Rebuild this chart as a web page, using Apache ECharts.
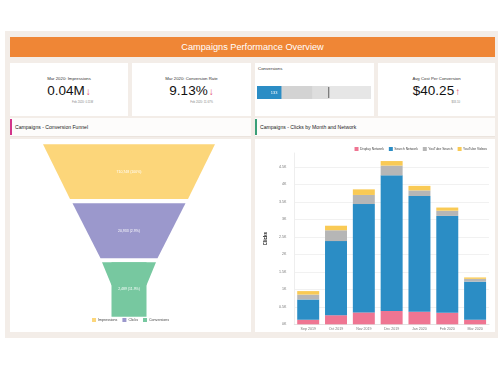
<!DOCTYPE html>
<html><head><meta charset="utf-8">
<script src="https://cdn.jsdelivr.net/npm/echarts@6/dist/echarts.min.js"></script>
<style>
body{margin:0;width:500px;height:375px;background:#fff;font-family:"Liberation Sans",Arial,sans-serif;position:relative;overflow:hidden}
.a{position:absolute}
#bg{left:5px;top:31px;width:493px;height:307px;background:#f3ede8}
#hdr{left:10px;top:37px;width:485px;height:20px;background:#ef8636;color:#fff;font-size:9.2px;line-height:20px;text-align:center}
.card{position:absolute;background:#fff;top:63px;height:53px;border:0}
.kt{position:absolute;top:13px;left:0;width:100%;text-align:center;font-size:4.3px;color:#333;white-space:nowrap}
.kv{position:absolute;top:20px;left:0;width:100%;text-align:center;font-size:13.5px;color:#111;white-space:nowrap;line-height:16px}
.ar{font-size:10px;color:#e34a6c;margin-left:1px}
.ks{position:absolute;top:37px;font-size:2.8px;color:#888;white-space:nowrap}
.ph{position:absolute;top:118px;height:18px;background:#fdfcfb;border-bottom:1px solid #ebe4de}
.ph .acc{position:absolute;left:0;top:1px;width:1.5px;height:16px}
.ph .tt{position:absolute;left:5px;top:0;line-height:18px;font-size:5.1px;color:#222;white-space:nowrap}
.pb{position:absolute;top:139px;height:193px;background:#fff}
</style></head>
<body>
<div id="bg" class="a"></div>
<div id="hdr" class="a">Campaigns Performance Overview</div>

<div class="card" style="left:10px;width:118px">
  <div class="kt">Mar 2020: Impressions</div>
  <div class="kv">0.04M<span class="ar">↓</span></div>
  <div class="ks" style="right:35px">Feb 2020: 0.11M</div>
</div>
<div class="card" style="left:132px;width:119px">
  <div class="kt">Mar 2020: Conversion Rate</div>
  <div class="kv">9.13%<span class="ar">↓</span></div>
  <div class="ks" style="right:38px">Feb 2020: 11.67%</div>
</div>
<div class="card" style="left:255px;width:119px">
  <div class="a" style="left:3px;top:3px;font-size:4.4px;color:#333">Conversions</div>
  <div id="bullet" class="a" style="left:0;top:0;width:119px;height:53px"></div>
</div>
<div class="card" style="left:378px;width:117px">
  <div class="kt">Avg Cost Per Conversion</div>
  <div class="kv">$40.25<span class="ar">↑</span></div>
  <div class="ks" style="right:35px">$33.10</div>
</div>

<div class="ph" style="left:10px;width:241px"><div class="acc" style="background:#d2358a"></div><div class="tt">Campaigns - Conversion Funnel</div></div>
<div class="ph" style="left:255px;width:240px"><div class="acc" style="background:#3a9f78"></div><div class="tt">Campaigns - Clicks by Month and Network</div></div>

<div id="funnel" class="pb" style="left:10px;width:241px"></div>
<div id="bars" class="pb" style="left:255px;width:240px"></div>

<script>
// ---- data ----
const months = ['Sep 2019', 'Oct 2019', 'Nov 2019', 'Dec 2019', 'Jan 2020', 'Feb 2020', 'Mar 2020'];
const displayNetwork = [130, 260, 340, 380, 360, 330, 130];
const searchNetwork = [580, 2120, 3100, 3880, 3310, 2770, 1090];
const youtubeSearch = [140, 310, 260, 280, 160, 150, 80];
const youtubeVideos = [100, 130, 160, 130, 130, 90, 40];
const networkNames = ['Display Network', 'Search Network', 'YouTube Search', 'YouTube Videos'];

const funnelStages = ['Impressions', 'Clicks', 'Conversions'];
const funnelValues = [710748, 20933, 2489];

const conversionsValue = 133;
const conversionsTarget = 390;
const conversionsRanges = [300, 390, 620];

// ---- bar chart ----
const netColors = ['#ef7592', '#2b8dc5', '#b6b6b6', '#f9ca55'];
const netData = [displayNetwork, searchNetwork, youtubeSearch, youtubeVideos];
const bars = echarts.init(document.getElementById('bars'));
bars.setOption({
  animation: false,
  textStyle: {fontFamily: 'Liberation Sans'},
  legend: {
    data: networkNames, right: 3, top: 3, itemWidth: 4, itemHeight: 4, itemGap: 5,
    icon: 'rect', textStyle: {fontSize: 3.3, color: '#444', padding: [0, 0, 0, -3.5]}
  },
  grid: {left: 25.6, right: 6, top: 14, bottom: 7.7},
  xAxis: {
    type: 'category', data: months,
    axisTick: {show: false},
    axisLine: {lineStyle: {color: '#e2e2e2'}},
    axisLabel: {fontSize: 3.6, color: '#777', margin: 2.5}
  },
  yAxis: {
    type: 'value', min: 0, max: 4900, interval: 500,
    name: 'Clicks', nameLocation: 'middle', nameGap: 20,
    nameTextStyle: {fontSize: 4.5, fontWeight: 'bold', color: '#111'},
    axisLine: {show: true, lineStyle: {color: '#eeeeee'}},
    axisTick: {show: false},
    axisLabel: {fontSize: 3.6, color: '#777', margin: 8, showMaxLabel: false,
      formatter: v => (v / 1000) + 'K'},
    splitLine: {lineStyle: {color: '#f1f1f1'}, showMaxLine: false}
  },
  series: networkNames.map((n, i) => ({
    name: n, type: 'bar', stack: 'clicks', data: netData[i], barWidth: '79%',
    itemStyle: {color: netColors[i]}
  }))
});

// ---- funnel ----
const funnelColors = ['#fcd67a', '#9b98cc', '#77c8a0'];
const pct = i => i === 0 ? '100%' : (funnelValues[i] / funnelValues[i - 1] * 100).toFixed(1) + '%';
const fmtLabel = i => funnelValues[i].toLocaleString('en-US') + ' (' + pct(i) + ')';
// shape styles for each stage piece: [stage index, top, height, topWidth, bottomWidth, showLabel]
const pieces = [
  [0, 5.3, 54.7, 172, 118, true],
  [1, 64.3, 55, 113, 57, true],
  [2, 123.3, 54.4, 35, 35, true],
  [2, 123.3, 23, 54, 35, false]
];
const cx = 119;
const funnel = echarts.init(document.getElementById('funnel'));
funnel.setOption({
  animation: false,
  textStyle: {fontFamily: 'Liberation Sans'},
  legend: {
    data: funnelStages, bottom: 5, left: 'center', itemWidth: 4, itemHeight: 4, itemGap: 5,
    icon: 'rect', textStyle: {fontSize: 3.6, color: '#444', padding: [0, 0, 0, -3]}
  },
  series: pieces.map(p => ({
    type: 'funnel', sort: 'none', gap: 0,
    left: cx - p[3] / 2, width: p[3], top: p[1], height: p[2],
    maxSize: p[3], minSize: p[4],
    itemStyle: {borderWidth: 0, color: funnelColors[p[0]]},
    label: {show: p[5], position: 'inside', color: '#fff', fontSize: 3.5, formatter: () => fmtLabel(p[0])},
    labelLine: {show: false},
    emphasis: {disabled: true},
    data: [{name: funnelStages[p[0]], value: funnelValues[p[0]]}]
  }))
});

// ---- bullet ----
const bullet = echarts.init(document.getElementById('bullet'));
const rangeColors = ['#d3d3d3', '#dedede', '#e6e6e6'];
bullet.setOption({
  animation: false,
  grid: {left: 2, right: 3, top: 23, height: 13},
  xAxis: {type: 'value', min: 0, max: conversionsRanges[2], show: false},
  yAxis: {type: 'category', data: ['Conversions'], show: false},
  series: [
    ...conversionsRanges.slice().reverse().map((r, i) => ({
      type: 'bar', data: [r], barWidth: '100%', barGap: '-100%', silent: true,
      itemStyle: {color: rangeColors[2 - i]}
    })),
    {type: 'bar', data: [conversionsValue], barWidth: '100%', barGap: '-100%',
     itemStyle: {color: '#2b8dc5'},
     label: {show: true, position: 'insideRight', color: '#fff', fontSize: 4, offset: [1, 0]}},
    {type: 'scatter', data: [[conversionsTarget, 0]], symbol: 'rect', symbolSize: [1.2, 11],
     itemStyle: {color: '#555'}, z: 5}
  ]
});
</script>
</body></html>
